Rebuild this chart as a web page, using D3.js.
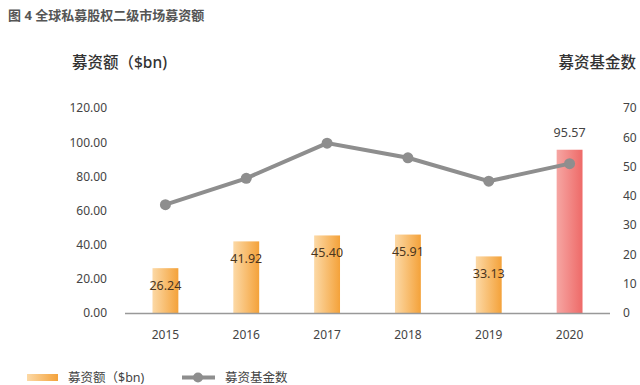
<!DOCTYPE html>
<html>
<head>
<meta charset="utf-8">
<script src="https://cdn.jsdelivr.net/npm/d3@7"></script>
<style>
  body { margin: 0; background: #fff; }
  text { font-family: "Noto Sans", "Noto Sans CJK SC", sans-serif; }
</style>
</head>
<body>
<div id="chart"></div>
<script>
// data
var years = ['2015', '2016', '2017', '2018', '2019', '2020'];
var amounts = [26.24, 41.92, 45.40, 45.91, 33.13, 95.57];
var fundCounts = [37, 46, 58, 53, 45, 51];
var leftTicks = [0, 20, 40, 60, 80, 100, 120];
var rightTicks = [0, 10, 20, 30, 40, 50, 60, 70];

var svgWidth = 640;
var svgHeight = 385;

var svg = d3.select('#chart')
    .append('svg')
    .attr('width', svgWidth)
    .attr('height', svgHeight);

// gradients for bars
var defs = svg.append('defs');
function addGradient(id, c1, c2) {
    var g = defs.append('linearGradient')
        .attr('id', id)
        .attr('x1', '0%').attr('x2', '100%')
        .attr('y1', '0%').attr('y2', '0%');
    g.append('stop').attr('offset', '0%').attr('stop-color', c1);
    g.append('stop').attr('offset', '100%').attr('stop-color', c2);
}
addGradient('orangeGrad', '#fcd9a6', '#f4a23a');
addGradient('redGrad', '#f6a6a3', '#ee6a68');

// scales
var xScale = d3.scaleBand()
    .domain(years)
    .range([125, 610])
    .paddingInner(0.68)
    .paddingOuter(0.34);

var yLeft = d3.scaleLinear().domain([0, 120]).range([313, 108]);
var yRight = d3.scaleLinear().domain([0, 70]).range([313, 108]);

// title
svg.append('text')
    .attr('x', 8)
    .attr('y', 20)
    .attr('font-size', 13)
    .attr('font-weight', 'bold')
    .attr('fill', '#555')
    .text('图 4 全球私募股权二级市场募资额');

// axis titles
svg.append('text')
    .attr('x', 72)
    .attr('y', 68)
    .attr('font-size', 15.5)
    .attr('font-weight', 500)
    .attr('fill', '#333')
    .text('募资额（$bn)');

svg.append('text')
    .attr('x', 636)
    .attr('y', 68)
    .attr('text-anchor', 'end')
    .attr('font-size', 15.5)
    .attr('font-weight', 500)
    .attr('fill', '#333')
    .text('募资基金数');

// left axis
var leftAxis = d3.axisLeft(yLeft)
    .tickValues(leftTicks)
    .tickFormat(d3.format('.2f'))
    .tickSize(0)
    .tickPadding(0);

var gLeft = svg.append('g')
    .attr('transform', 'translate(107,0)')
    .call(leftAxis);
gLeft.select('.domain').remove();
gLeft.selectAll('text')
    .attr('font-size', 12)
    .attr('fill', '#444')
    .style('font-family', '"Noto Sans", sans-serif');

// right axis
var rightAxis = d3.axisRight(yRight)
    .tickValues(rightTicks)
    .tickSize(0)
    .tickPadding(0);

var gRight = svg.append('g')
    .attr('transform', 'translate(623,0)')
    .call(rightAxis);
gRight.select('.domain').remove();
gRight.selectAll('text')
    .attr('font-size', 12)
    .attr('fill', '#444')
    .style('font-family', '"Noto Sans", sans-serif');

// bottom axis
var bottomAxis = d3.axisBottom(xScale)
    .tickSize(0)
    .tickPadding(17);

var gBottom = svg.append('g')
    .attr('transform', 'translate(0,313)')
    .call(bottomAxis);
gBottom.select('.domain').remove();
gBottom.selectAll('text')
    .attr('font-size', 12)
    .attr('fill', '#444')
    .style('font-family', '"Noto Sans", sans-serif');

// bars
svg.selectAll('.bar')
    .data(amounts)
    .enter()
    .append('rect')
    .attr('class', 'bar')
    .attr('x', (d, i) => xScale(years[i]))
    .attr('y', d => yLeft(d))
    .attr('width', xScale.bandwidth())
    .attr('height', d => yLeft(0) - yLeft(d))
    .attr('fill', (d, i) => i === years.length - 1 ? 'url(#redGrad)' : 'url(#orangeGrad)');

// baseline
svg.append('line')
    .attr('x1', xScale.range()[0])
    .attr('x2', xScale.range()[1])
    .attr('y1', yLeft(0) + 0.5)
    .attr('y2', yLeft(0) + 0.5)
    .attr('stroke', '#999')
    .attr('stroke-width', 1.5);

// line series
var line = d3.line()
    .x((d, i) => xScale(years[i]) + xScale.bandwidth() / 2)
    .y(d => yRight(d));

svg.append('path')
    .datum(fundCounts)
    .attr('d', line)
    .attr('fill', 'none')
    .attr('stroke', '#8e8e8e')
    .attr('stroke-width', 4);

svg.selectAll('.dot')
    .data(fundCounts)
    .enter()
    .append('circle')
    .attr('class', 'dot')
    .attr('cx', (d, i) => xScale(years[i]) + xScale.bandwidth() / 2)
    .attr('cy', d => yRight(d))
    .attr('r', 5.5)
    .attr('fill', '#8e8e8e');

// value labels
svg.selectAll('.val')
    .data(amounts)
    .enter()
    .append('text')
    .attr('class', 'val')
    .attr('x', (d, i) => xScale(years[i]) + xScale.bandwidth() / 2)
    .attr('y', (d, i) => i === years.length - 1 ? yLeft(d) - 17 : yLeft(d) + 17)
    .attr('dominant-baseline', 'central')
    .attr('text-anchor', 'middle')
    .attr('font-size', 12.5)
    .attr('fill', (d, i) => i === years.length - 1 ? '#444' : '#4a3520')
    .text(d => d3.format('.2f')(d));

// legend
var legend = svg.append('g');
legend.append('rect')
    .attr('x', 27)
    .attr('y', 374)
    .attr('width', 31)
    .attr('height', 7)
    .attr('fill', 'url(#orangeGrad)');
legend.append('text')
    .attr('x', 68)
    .attr('y', 377.5)
    .attr('dominant-baseline', 'central')
    .attr('font-size', 12.5)
    .attr('fill', '#444')
    .text('募资额（$bn)');

legend.append('line')
    .attr('x1', 182).attr('x2', 215)
    .attr('y1', 377.5).attr('y2', 377.5)
    .attr('stroke', '#8e8e8e')
    .attr('stroke-width', 4);
legend.append('circle')
    .attr('cx', 198)
    .attr('cy', 377.5)
    .attr('r', 5)
    .attr('fill', '#8e8e8e');
legend.append('text')
    .attr('x', 225)
    .attr('y', 377.5)
    .attr('dominant-baseline', 'central')
    .attr('font-size', 12.5)
    .attr('fill', '#444')
    .text('募资基金数');
</script>
</body>
</html>
